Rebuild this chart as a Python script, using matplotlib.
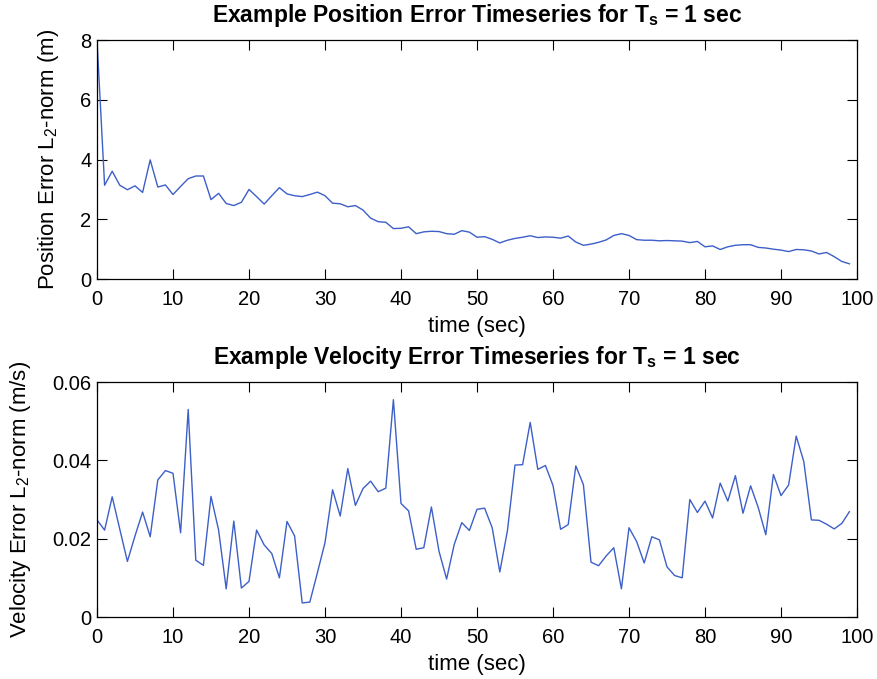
import matplotlib
matplotlib.use("Agg")
import matplotlib.pyplot as plt
import numpy as np

plt.rcParams['font.family'] = ['Liberation Sans', 'DejaVu Sans']
plt.rcParams['mathtext.fontset'] = 'custom'
plt.rcParams['mathtext.rm'] = 'Liberation Sans'
plt.rcParams['mathtext.it'] = 'Liberation Sans:italic'
plt.rcParams['mathtext.bf'] = 'Liberation Sans:bold'

time_sec = list(range(100))

position_error = [
    8.00, 3.14, 3.61, 3.14, 2.99, 3.12, 2.90, 3.99, 3.08, 3.15,
    2.83, 3.10, 3.36, 3.45, 3.45, 2.66, 2.87, 2.53, 2.46, 2.57,
    3.00, 2.76, 2.51, 2.79, 3.06, 2.85, 2.79, 2.76, 2.83, 2.91,
    2.79, 2.54, 2.52, 2.42, 2.46, 2.31, 2.04, 1.92, 1.90, 1.69,
    1.70, 1.75, 1.52, 1.58, 1.60, 1.59, 1.52, 1.50, 1.62, 1.57,
    1.40, 1.42, 1.33, 1.21, 1.30, 1.36, 1.40, 1.45, 1.39, 1.41,
    1.40, 1.37, 1.44, 1.24, 1.13, 1.17, 1.23, 1.31, 1.46, 1.52,
    1.46, 1.32, 1.30, 1.30, 1.28, 1.29, 1.28, 1.27, 1.22, 1.26,
    1.08, 1.11, 0.99, 1.08, 1.13, 1.15, 1.15, 1.06, 1.04, 1.00,
    0.97, 0.92, 0.99, 0.98, 0.94, 0.84, 0.89, 0.75, 0.59, 0.51,
]

velocity_error = [
    0.0248, 0.0222, 0.0307, 0.0224, 0.0142, 0.0207, 0.0268, 0.0205, 0.0350, 0.0374,
    0.0367, 0.0215, 0.0530, 0.0145, 0.0132, 0.0308, 0.0222, 0.0072, 0.0245, 0.0074,
    0.0091, 0.0222, 0.0184, 0.0162, 0.0100, 0.0244, 0.0207, 0.0036, 0.0038, 0.0113,
    0.0190, 0.0325, 0.0258, 0.0379, 0.0285, 0.0328, 0.0347, 0.0320, 0.0329, 0.0555,
    0.0290, 0.0271, 0.0173, 0.0177, 0.0281, 0.0168, 0.0097, 0.0185, 0.0241, 0.0221,
    0.0275, 0.0278, 0.0228, 0.0115, 0.0220, 0.0388, 0.0389, 0.0497, 0.0377, 0.0387,
    0.0336, 0.0224, 0.0236, 0.0386, 0.0338, 0.0140, 0.0131, 0.0156, 0.0177, 0.0072,
    0.0228, 0.0193, 0.0138, 0.0205, 0.0197, 0.0128, 0.0106, 0.0100, 0.0300, 0.0267,
    0.0296, 0.0253, 0.0342, 0.0296, 0.0361, 0.0265, 0.0335, 0.0280, 0.0210, 0.0364,
    0.0310, 0.0337, 0.0462, 0.0397, 0.0248, 0.0247, 0.0237, 0.0225, 0.0239, 0.0269,
]

x_ticks = [0, 10, 20, 30, 40, 50, 60, 70, 80, 90, 100]
pos_ticks = [0, 2, 4, 6, 8]
vel_ticks = [0, 0.02, 0.04, 0.06]
vel_tick_labels = ['0', '0.02', '0.04', '0.06']

line_color = '#3d5fc8'

fig = plt.figure(figsize=(8.77, 6.79), dpi=100)
ax1 = fig.add_axes([0.1106, 0.589, 0.8666, 0.352])
ax2 = fig.add_axes([0.1106, 0.0913, 0.8666, 0.346])

for ax in (ax1, ax2):
    ax.set_xlim(0, 100)
    ax.set_xticks(x_ticks)
    ax.tick_params(direction='in', length=7, width=0.8, labelsize=14.5,
                   top=True, right=True, pad=4)
    ax.tick_params(axis='x', pad=8)
    for s in ax.spines.values():
        s.set_linewidth(0.9)
    ax.set_xlabel('time (sec)', fontsize=16, labelpad=5)

ax1.plot(time_sec, position_error, color=line_color, lw=1.0)
ax1.set_ylim(0, 8)
ax1.set_yticks(pos_ticks)
ax1.set_ylabel('Position Error L$_2$-norm (m)', fontsize=16, labelpad=14)
ax1.set_title(r'Example Position Error Timeseries for T$_\mathbf{s}$ = 1 sec',
              fontsize=16.5, fontweight='bold', pad=13)

ax2.plot(time_sec, velocity_error, color=line_color, lw=1.0)
ax2.set_ylim(0, 0.06)
ax2.set_yticks(vel_ticks)
ax2.set_yticklabels(vel_tick_labels)
ax2.set_ylabel('Velocity Error L$_2$-norm (m/s)', fontsize=16, labelpad=14)
ax2.set_title(r'Example Velocity Error Timeseries for T$_\mathbf{s}$ = 1 sec',
              fontsize=16.5, fontweight='bold', pad=13)

fig.savefig('out.png', dpi=100)
